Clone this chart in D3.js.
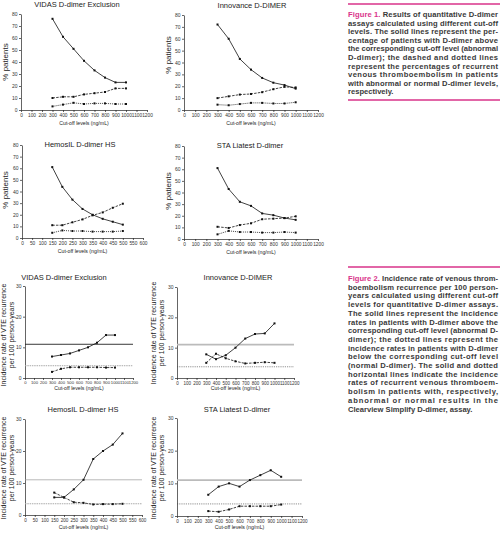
<!DOCTYPE html>
<html>
<head>
<meta charset="utf-8">
<script src="https://cdn.jsdelivr.net/npm/d3@7"></script>
<style>
  body { margin: 0; background: #fff; }
  svg { display: block; }
  .title { font-family: "Liberation Sans", Arial, sans-serif; font-size: 7.5px; fill: #222; }
  .axis_label { font-family: "Liberation Sans", Arial, sans-serif; fill: #222; }
  .axis text { font-family: "Liberation Sans Narrow", "Liberation Sans", Arial, sans-serif; fill: #333; }
  .axis path, .axis line { stroke: #222; stroke-width: 0.7; }
  .caption { font-family: "Liberation Sans", Arial, sans-serif; font-size: 7.6px; font-weight: bold; fill: #3a3a3a; }
</style>
</head>
<body>
<svg id="page"></svg>
<script>
// cut-off levels (ng/mL)
let cutoffs = [300, 400, 500, 600, 700, 800, 900, 1000];
let cutoffsHemosil = [150, 200, 250, 300, 350, 400, 450, 500];

// Figure 1 - % patients
let vidasAbnormal = [76, 61, 51, 41, 33, 27, 23, 23];
let vidasVteAbnormal = [10, 11, 11, 13, 14, 15, 18, 18];
let vidasVteNormal = [3, 4.5, 6, 5, 5.5, 5.5, 5, 5];

let innovanceAbnormal = [72, 60, 43, 34, 27, 23, 21, 18];
let innovanceVteAbnormal = [10, 11.5, 13, 13.5, 15, 17.5, 19.5, 19];
let innovanceVteNormal = [4.5, 4, 5, 6, 6, 5.5, 5.5, 6.5];

let hemosilAbnormal = [61, 44, 33, 25, 20, 16.5, 14, 11.5];
let hemosilVteAbnormal = [11, 11, 13.5, 16, 19.5, 22, 26, 29.5];
let hemosilVteNormal = [4.5, 6.5, 6, 6, 5.5, 5.5, 5.5, 6];

let staAbnormal = [61, 43, 32, 28.5, 22, 20.5, 18, 16.5];
let staVteAbnormal = [10.5, 9.5, 12, 13.5, 17, 17.5, 18, 19.5];
let staVteNormal = [4, 7, 6, 6, 5.5, 5.5, 6, 5.5];

// Figure 2 - incidence rate per 100 person-years
let vidasRateAbove = [7, 7.5, 8, 9, 10, 11.5, 14, 14];
let vidasRateBelow = [2, 3, 3.5, 3.5, 3.5, 3.5, 3.4, 3.4];
let innovanceRateAbove = [7.8, 6.2, 7.5, 10, 13, 14.5, 14.7, 18];
let innovanceRateBelow = [5, 8, 6.5, 5.5, 4.8, 5, 5.2, 5];
let hemosilRateAbove = [5.5, 5.5, 8, 11, 17.5, 20, 22, 25.5];
let hemosilRateBelow = [7, 5.5, 4, 3.8, 3.3, 3.4, 3.4, 3.5];
let staRateAbove = [6.5, 9, 10, 9, 11, 12.5, 14, 12];
let staRateBelow = [1.5, 1.3, 2, 3, 3, 3, 3, 3.5];

// Clearview Simplify reference rates
let clearviewAbnormal = 11;
let clearviewNormal = [4, 3.7, 3.5, 3.7];

let ticks1200 = d3.range(0, 1201, 100);
let ticks600 = d3.range(0, 601, 50);
let ticksPct = d3.range(0, 81, 10);
let ticksRate = [0, 10, 20, 30];

let caption1 = [
  "Figure 1. Results of quantitative D-dimer",
  "assays calculated using different cut-off",
  "levels. The solid lines represent the per-",
  "centage of patients with D-dimer above",
  "the corresponding cut-off level (abnormal",
  "D-dimer); the dashed and dotted lines",
  "represent the percentages of recurrent",
  "venous thromboembolism in patients",
  "with abnormal or normal D-dimer levels,",
  "respectively."
];
let caption2 = [
  "Figure 2. Incidence rate of venous throm-",
  "boembolism recurrence per 100 person-",
  "years calculated using different cut-off",
  "levels for quantitative D-dimer assays.",
  "The solid lines represent the incidence",
  "rates in patients with D-dimer above the",
  "corresponding cut-off level (abnormal D-",
  "dimer); the dotted lines represent the",
  "incidence rates in patients with D-dimer",
  "below the corresponding cut-off level",
  "(normal D-dimer). The solid and dotted",
  "horizontal lines indicate the incidence",
  "rates of recurrent venous thromboem-",
  "bolism in patients with, respectively,",
  "abnormal or normal results in the",
  "Clearview Simplify D-dimer, assay."
];

let svg = d3.select('#page').attr('width', 500).attr('height', 533);

// one small panel
let drawPanel = (p) => {
  let g = svg.append('g');
  let xScale = d3.scaleLinear().domain([0, p.xMax]).range([p.x0, p.x1]);
  let yScale = d3.scaleLinear().domain([0, p.yMax]).range([p.yBot, p.yTop]);

  // axes
  g.append('g')
    .attr('class', 'axis')
    .attr('transform', `translate(0, ${p.yBot})`)
    .call(d3.axisBottom(xScale).tickValues(p.xTicks).tickFormat(d => d)
      .tickSize(2).tickPadding(1.5).tickSizeOuter(0))
    .attr('font-size', p.tickSize);
  g.append('g')
    .attr('class', 'axis')
    .attr('transform', `translate(${p.x0}, 0)`)
    .call(d3.axisLeft(yScale).tickValues(p.yTicks).tickFormat(d => d)
      .tickSize(2).tickPadding(1.5).tickSizeOuter(0))
    .attr('font-size', 5);
  g.selectAll('.axis text').attr('font-size', null);

  // title and x label
  g.append('text').attr('class', 'title')
    .attr('x', p.titleX).attr('y', p.titleY)
    .attr('text-anchor', 'middle').text(p.title);
  g.append('text').attr('class', 'axis_label')
    .attr('x', (p.x0 + p.x1) / 2).attr('y', p.xLabelY)
    .attr('text-anchor', 'middle').attr('font-size', 5.2)
    .text('Cut-off levels (ng/mL)');

  // y label (one or two lines)
  p.yLabel.forEach((txt, i) => {
    g.append('text').attr('class', 'axis_label')
      .attr('transform', `translate(${p.yLabelX + i * p.yLabelGap}, ${p.yLabelY}) rotate(-90)`)
      .attr('text-anchor', 'middle')
      .attr('font-size', p.yLabelSize)
      .text(txt);
  });

  // horizontal reference lines
  (p.refs || []).forEach(r => {
    g.append('line')
      .attr('x1', p.x0).attr('x2', p.x1)
      .attr('y1', yScale(r.value)).attr('y2', yScale(r.value))
      .attr('stroke', r.color).attr('stroke-width', r.width)
      .attr('stroke-dasharray', r.dash);
  });

  let line = d3.line().x(d => xScale(d[0])).y(d => yScale(d[1]));

  p.series.forEach(s => {
    let pts = p.xs.map((x, i) => [x, s.values[i]]);
    g.append('path')
      .attr('d', line(pts))
      .attr('fill', 'none')
      .attr('stroke', '#111')
      .attr('stroke-width', 0.8)
      .attr('stroke-dasharray', s.dash);
    g.selectAll(null)
      .data(pts)
      .join('rect')
      .attr('x', d => xScale(d[0]) - 1)
      .attr('y', d => yScale(d[1]) - 1)
      .attr('width', 2).attr('height', 2)
      .attr('fill', '#111');
  });
};

let solid = null, dashed = '2.5,1.2', dotted = '1,1';

// Figure 1 panels
let fig1 = [
  {title: 'VIDAS D-dimer Exclusion', x0: 21, x1: 147, yTop: 14, yBot: 110, titleX: 77, titleY: 7,
   xLabelY: 125, yLabelX: 8, yLabelY: 62, xMax: 1200, xTicks: ticks1200, xs: cutoffs,
   series: [vidasAbnormal, vidasVteAbnormal, vidasVteNormal]},
  {title: 'Innovance D-DIMER', x0: 184, x1: 318, yTop: 15, yBot: 110, titleX: 252, titleY: 8,
   xLabelY: 125, yLabelX: 171, yLabelY: 55, xMax: 1200, xTicks: ticks1200, xs: cutoffs,
   series: [innovanceAbnormal, innovanceVteAbnormal, innovanceVteNormal]},
  {title: 'HemosIL D-dimer HS', x0: 22, x1: 143, yTop: 145, yBot: 238, titleX: 80, titleY: 147,
   xLabelY: 253, yLabelX: 8, yLabelY: 190, xMax: 600, xTicks: ticks600, xs: cutoffsHemosil,
   series: [hemosilAbnormal, hemosilVteAbnormal, hemosilVteNormal]},
  {title: 'STA Liatest D-dimer', x0: 184, x1: 318, yTop: 146, yBot: 239, titleX: 250, titleY: 148,
   xLabelY: 254, yLabelX: 171, yLabelY: 191, xMax: 1200, xTicks: ticks1200, xs: cutoffs,
   series: [staAbnormal, staVteAbnormal, staVteNormal]}
];
fig1.forEach(p => {
  drawPanel(Object.assign({}, p, {
    yMax: 80, yTicks: ticksPct, yLabel: ['% patients'], yLabelSize: 8, yLabelGap: 0, tickSize: 4.8,
    series: [
      {values: p.series[0], dash: solid},
      {values: p.series[1], dash: dashed},
      {values: p.series[2], dash: dotted}
    ]
  }));
});

// Figure 2 panels
let refStyles = [
  {abn: {color: '#222', width: 0.9, dash: null}, nor: {color: '#aaa', width: 1, dash: '1.5,0.8'}},
  {abn: {color: '#bbb', width: 1.8, dash: null}, nor: {color: '#444', width: 0.6, dash: '1.2,1'}},
  {abn: {color: '#999', width: 0.7, dash: null}, nor: {color: '#aaa', width: 1.1, dash: '1.5,0.8'}},
  {abn: {color: '#bbb', width: 1.8, dash: null}, nor: {color: '#444', width: 0.6, dash: '1.2,1'}}
];
let fig2 = [
  {title: 'VIDAS D-dimer Exclusion', x0: 25, x1: 133, yTop: 286, yBot: 378, titleX: 64, titleY: 280,
   xLabelY: 390, yLabelX: 6, yLabelY: 335, xMax: 1200, xTicks: ticks1200, xs: cutoffs, tickSize: 4.2,
   series: [vidasRateAbove, vidasRateBelow]},
  {title: 'Innovance D-DIMER', x0: 177, x1: 294, yTop: 287, yBot: 378, titleX: 238, titleY: 280,
   xLabelY: 390, yLabelX: 156, yLabelY: 333, xMax: 1200, xTicks: ticks1200, xs: cutoffs, tickSize: 4.5,
   series: [innovanceRateAbove, innovanceRateBelow]},
  {title: 'HemosIL D-dimer HS', x0: 25, x1: 142, yTop: 419, yBot: 515, titleX: 83, titleY: 412,
   xLabelY: 529, yLabelX: 6, yLabelY: 468, xMax: 600, xTicks: ticks600, xs: cutoffsHemosil, tickSize: 4.6,
   series: [hemosilRateAbove, hemosilRateBelow]},
  {title: 'STA Liatest D-dimer', x0: 177, x1: 302, yTop: 418, yBot: 516, titleX: 237, titleY: 412,
   xLabelY: 529, yLabelX: 156, yLabelY: 468, xMax: 1200, xTicks: ticks1200, xs: cutoffs, tickSize: 4.6,
   series: [staRateAbove, staRateBelow]}
];
fig2.forEach((p, i) => {
  drawPanel(Object.assign({}, p, {
    yMax: 30, yTicks: ticksRate,
    yLabel: ['Incidence rate of VTE recurrence', 'per 100 person-years'], yLabelSize: 7, yLabelGap: 8,
    refs: [
      Object.assign({value: clearviewAbnormal}, refStyles[i].abn),
      Object.assign({value: clearviewNormal[i]}, refStyles[i].nor)
    ],
    series: [
      {values: p.series[0], dash: solid},
      {values: p.series[1], dash: dashed}
    ]
  }));
});

// captions
let pink = '#d9338a';
let drawCaption = (lines, top, firstY, gap, bottom) => {
  let left = 348, right = 500, textW = 150;
  svg.append('line').attr('x1', left).attr('x2', right)
    .attr('y1', top).attr('y2', top).attr('stroke', pink).attr('stroke-width', 1.6);
  if (bottom) {
    svg.append('line').attr('x1', left).attr('x2', right)
      .attr('y1', bottom).attr('y2', bottom).attr('stroke', pink).attr('stroke-width', 1.6);
  }
  lines.forEach((txt, i) => {
    let t = svg.append('text').attr('class', 'caption')
      .attr('x', left).attr('y', firstY + i * gap);
    if (i < lines.length - 1) t.attr('textLength', textW).attr('lengthAdjust', 'spacing');
    if (i === 0) {
      let label = txt.slice(0, 9);
      t.append('tspan').attr('fill', pink).text(label);
      t.append('tspan').text(txt.slice(9));
    } else {
      t.text(txt);
    }
  });
};
drawCaption(caption1, 4, 17, 8.6, 100);
drawCaption(caption2, 267, 281, 8.7, null);
</script>
</body>
</html>
